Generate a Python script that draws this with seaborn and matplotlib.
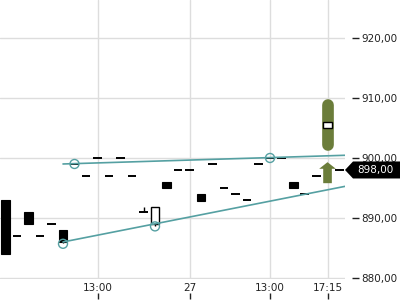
import numpy as np
import pandas as pd
import matplotlib
matplotlib.use("Agg")
import matplotlib.pyplot as plt
import matplotlib.transforms as mtransforms
from matplotlib.patches import Polygon, FancyArrow
from matplotlib.ticker import FuncFormatter, FixedLocator
import seaborn as sns

# ---- data ----
opens  = [893, 887, 891, 887, 889, 888, 899, 897, 900, 897, 900, 897, 891, 889.0, 896, 898, 898, 894.0, 899, 895, 894, 893, 899, 900, 900, 896, 894, 897, np.nan, 898]
closes = [884, 887, 889, 887, 889, 886, 899, 897, 900, 897, 900, 897, 891, 891.8, 895, 898, 898, 892.8, 899, 895, 894, 893, 899, 900, 900, 895, 894, 897, np.nan, 898]
highs  = [893, 887, 891, 887, 889, 888, 899, 897, 900, 897, 900, 897, 891.8, 891.8, 896, 898, 898, 894.0, 899, 895, 894, 893, 899, 900, 900, 896, 894, 897, np.nan, 898]
lows   = [884, 887, 889, 887, 889, 885.8, 899, 897, 900, 897, 900, 897, 891, 888.7, 895, 898, 898, 892.8, 899, 895, 894, 893, 899, 900, 900, 895, 894, 897, np.nan, 898]

pivot_x = [6, 23, 5, 13]
pivot_y = [899.0, 900.0, 885.7, 888.6]

upper_trend_x = [5, 29.52]
upper_trend_y = [899.0, 900.45]
lower_trend_x = [5, 29.52]
lower_trend_y = [886.0, 895.27]

forecast_idx = 28
forecast_range = [901.2, 909.8]
forecast_box = [905.0, 906.0]
signal_from = 895.8
signal_to = 899.3
last_price = 898.0

xtick_pos = [8, 16, 23, 28]
xtick_labels = ["13:00", "27", "13:00", "17:15"]
ytick_vals = [880, 890, 900, 910, 920]

# ---- style ----
sns.set_theme(style="whitegrid")
plt.rcParams['font.family'] = ['DejaVu Sans']
green = "#6b7d3a"
teal = "#55a0a2"
txt = "#222222"

fig = plt.figure(figsize=(4, 3), dpi=100)
ax = fig.add_axes([0, 21/300, 345/400, 279/300])
ax.set_facecolor("white")

x = np.arange(len(opens))
o = np.array(opens, dtype=float)
c = np.array(closes, dtype=float)
h = np.array(highs, dtype=float)
l = np.array(lows, dtype=float)
valid = ~np.isnan(o)
bw = 0.78

# wicks
ax.vlines(x[valid], l[valid], h[valid], color="black", lw=1, zorder=3)
# doji
doji = valid & (o == c)
ax.hlines(o[doji], x[doji] - bw/2, x[doji] + bw/2, color="black", lw=1.4, zorder=3)
# bodies
down = valid & (c < o)
up = valid & (c > o)
ax.bar(x[down], c[down] - o[down], bottom=o[down], width=bw, color="black", edgecolor="black", lw=0.8, zorder=3)
ax.bar(x[up], c[up] - o[up], bottom=o[up], width=bw - 0.05, color="white", edgecolor="black", lw=1, zorder=3)

# trend lines
tl = pd.DataFrame({"x": upper_trend_x + lower_trend_x,
                   "y": upper_trend_y + lower_trend_y,
                   "line": ["u", "u", "l", "l"]})
sns.lineplot(data=tl, x="x", y="y", units="line", estimator=None, color=teal, lw=1.2, ax=ax, zorder=4)

# pivot circles
sns.scatterplot(x=pivot_x, y=pivot_y, marker="o", s=42, facecolor="none", edgecolor=teal, linewidth=1, ax=ax, zorder=5)

# forecast pill
cap = 1.0
ax.plot([forecast_idx, forecast_idx], [forecast_range[0] + cap, forecast_range[1] - cap],
        lw=8.4, color=green, solid_capstyle="round", zorder=5)
ax.bar([forecast_idx], [forecast_box[1] - forecast_box[0]], bottom=forecast_box[0], width=0.72,
       color="white", edgecolor="black", lw=1, zorder=6)

# signal arrow
ax.add_patch(FancyArrow(forecast_idx, signal_from, 0, signal_to - signal_from, width=0.75,
                        head_width=1.45, head_length=1.1, length_includes_head=True,
                        color=green, lw=0, zorder=5))

# axes
ax.set_xlim(-0.478, 29.52)
ax.set_ylim(879.83, 926.33)
ax.set_xlabel("")
ax.set_ylabel("")
for s in ax.spines.values():
    s.set_visible(False)
ax.grid(True, color="#dddddd", lw=1)
ax.yaxis.tick_right()
ax.spines['right'].set_position(('outward', 5))
ax.yaxis.set_major_locator(FixedLocator(ytick_vals))
ax.yaxis.set_major_formatter(FuncFormatter(lambda v, p: f"{v:.2f}".replace(".", ",")))
ax.tick_params(axis="y", which="both", right=True, left=False, length=5, width=1, color=txt,
               labelsize=7.5, labelcolor=txt, pad=2)
ax.set_xticks(xtick_pos)
ax.set_xticklabels(xtick_labels)
ax.tick_params(axis="x", length=0, labelsize=7.5, labelcolor=txt, pad=3)

sec = ax.secondary_xaxis(-0.05)
sec.set_xticks(xtick_pos)
sec.set_xticklabels([])
sec.tick_params(axis="x", length=4, width=1, color=txt, direction="out")
for s in sec.spines.values():
    s.set_visible(False)

# last price tag
bt = mtransforms.blended_transform_factory(ax.transAxes, ax.transData)
hh = 8.5 / 6.0
W = 345.0
tag = Polygon([(345/W, last_price), (353/W, last_price + hh), (400/W + 0.01, last_price + hh),
               (400/W + 0.01, last_price - hh), (353/W, last_price - hh)],
              closed=True, transform=bt, facecolor="black", edgecolor="none", clip_on=False, zorder=10)
ax.add_patch(tag)
ax.text(357/W, last_price, f"{last_price:.2f}".replace(".", ","), transform=bt, color="white",
        fontsize=7.5, va="center", ha="left", clip_on=False, zorder=11)

fig.savefig("out.png", dpi=100)
